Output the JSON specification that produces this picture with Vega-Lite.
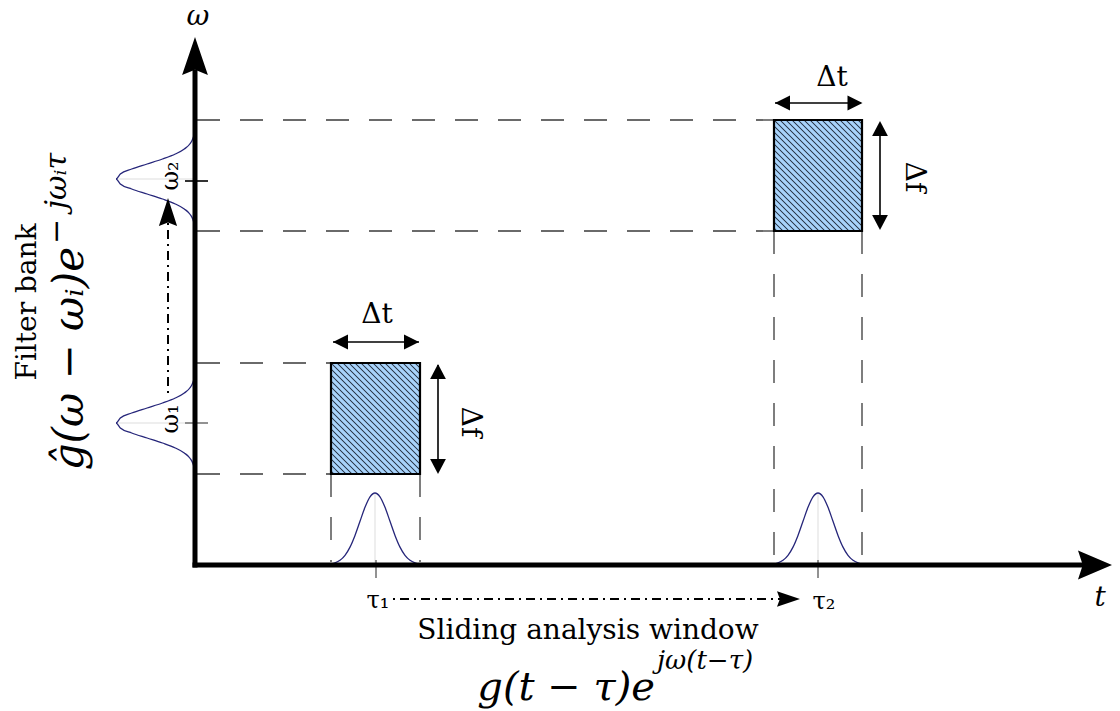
{
  "$schema": "https://vega.github.io/schema/vega-lite/v6.json",
  "width": 1120,
  "height": 711,
  "autosize": {"type": "fit", "contains": "padding"},
  "padding": 0,
  "background": "white",
  "config": {"view": {"stroke": null}},
  "datasets": {
    "boxes": [
      {"t": 1.36, "t2": 2.25, "w": 0.91, "w2": 2.02},
      {"t": 5.79, "t2": 6.67, "w": 3.34, "w2": 4.45}
    ],
    "dashed": [
      {"t": 0.02, "w": 2.02, "t2": 1.36, "w2": 2.02},
      {"t": 0.02, "w": 0.91, "t2": 1.36, "w2": 0.91},
      {"t": 1.36, "w": 0.91, "t2": 1.36, "w2": 0.03},
      {"t": 2.25, "w": 0.91, "t2": 2.25, "w2": 0.03},
      {"t": 0.02, "w": 4.45, "t2": 5.79, "w2": 4.45},
      {"t": 0.02, "w": 3.34, "t2": 5.79, "w2": 3.34},
      {"t": 5.79, "w": 3.34, "t2": 5.79, "w2": 0.03},
      {"t": 6.67, "w": 3.34, "t2": 6.67, "w2": 0.03}
    ],
    "hatch": [
      {"t": 1.36, "w": 0.94, "t2": 1.39, "w2": 0.91},
      {"t": 1.36, "w": 1.00, "t2": 1.45, "w2": 0.91},
      {"t": 1.36, "w": 1.06, "t2": 1.51, "w2": 0.91},
      {"t": 1.36, "w": 1.12, "t2": 1.57, "w2": 0.91},
      {"t": 1.36, "w": 1.18, "t2": 1.63, "w2": 0.91},
      {"t": 1.36, "w": 1.24, "t2": 1.69, "w2": 0.91},
      {"t": 1.36, "w": 1.30, "t2": 1.75, "w2": 0.91},
      {"t": 1.36, "w": 1.36, "t2": 1.81, "w2": 0.91},
      {"t": 1.36, "w": 1.42, "t2": 1.87, "w2": 0.91},
      {"t": 1.36, "w": 1.48, "t2": 1.93, "w2": 0.91},
      {"t": 1.36, "w": 1.54, "t2": 1.99, "w2": 0.91},
      {"t": 1.36, "w": 1.60, "t2": 2.05, "w2": 0.91},
      {"t": 1.36, "w": 1.66, "t2": 2.11, "w2": 0.91},
      {"t": 1.36, "w": 1.72, "t2": 2.17, "w2": 0.91},
      {"t": 1.36, "w": 1.78, "t2": 2.23, "w2": 0.91},
      {"t": 1.36, "w": 1.84, "t2": 2.25, "w2": 0.95},
      {"t": 1.36, "w": 1.90, "t2": 2.25, "w2": 1.01},
      {"t": 1.36, "w": 1.96, "t2": 2.25, "w2": 1.07},
      {"t": 1.36, "w": 2.02, "t2": 2.25, "w2": 1.13},
      {"t": 1.42, "w": 2.02, "t2": 2.25, "w2": 1.19},
      {"t": 1.48, "w": 2.02, "t2": 2.25, "w2": 1.25},
      {"t": 1.54, "w": 2.02, "t2": 2.25, "w2": 1.31},
      {"t": 1.60, "w": 2.02, "t2": 2.25, "w2": 1.37},
      {"t": 1.66, "w": 2.02, "t2": 2.25, "w2": 1.43},
      {"t": 1.72, "w": 2.02, "t2": 2.25, "w2": 1.49},
      {"t": 1.78, "w": 2.02, "t2": 2.25, "w2": 1.55},
      {"t": 1.84, "w": 2.02, "t2": 2.25, "w2": 1.61},
      {"t": 1.90, "w": 2.02, "t2": 2.25, "w2": 1.67},
      {"t": 1.96, "w": 2.02, "t2": 2.25, "w2": 1.73},
      {"t": 2.02, "w": 2.02, "t2": 2.25, "w2": 1.79},
      {"t": 2.08, "w": 2.02, "t2": 2.25, "w2": 1.85},
      {"t": 2.14, "w": 2.02, "t2": 2.25, "w2": 1.91},
      {"t": 2.20, "w": 2.02, "t2": 2.25, "w2": 1.97},
      {"t": 5.79, "w": 3.37, "t2": 5.82, "w2": 3.34},
      {"t": 5.79, "w": 3.43, "t2": 5.88, "w2": 3.34},
      {"t": 5.79, "w": 3.49, "t2": 5.94, "w2": 3.34},
      {"t": 5.79, "w": 3.55, "t2": 6.00, "w2": 3.34},
      {"t": 5.79, "w": 3.61, "t2": 6.06, "w2": 3.34},
      {"t": 5.79, "w": 3.67, "t2": 6.12, "w2": 3.34},
      {"t": 5.79, "w": 3.73, "t2": 6.18, "w2": 3.34},
      {"t": 5.79, "w": 3.79, "t2": 6.24, "w2": 3.34},
      {"t": 5.79, "w": 3.85, "t2": 6.30, "w2": 3.34},
      {"t": 5.79, "w": 3.91, "t2": 6.36, "w2": 3.34},
      {"t": 5.79, "w": 3.97, "t2": 6.42, "w2": 3.34},
      {"t": 5.79, "w": 4.03, "t2": 6.48, "w2": 3.34},
      {"t": 5.79, "w": 4.09, "t2": 6.54, "w2": 3.34},
      {"t": 5.79, "w": 4.15, "t2": 6.60, "w2": 3.34},
      {"t": 5.79, "w": 4.21, "t2": 6.66, "w2": 3.34},
      {"t": 5.79, "w": 4.27, "t2": 6.67, "w2": 3.39},
      {"t": 5.79, "w": 4.33, "t2": 6.67, "w2": 3.45},
      {"t": 5.79, "w": 4.39, "t2": 6.67, "w2": 3.51},
      {"t": 5.79, "w": 4.45, "t2": 6.67, "w2": 3.57},
      {"t": 5.85, "w": 4.45, "t2": 6.67, "w2": 3.63},
      {"t": 5.91, "w": 4.45, "t2": 6.67, "w2": 3.69},
      {"t": 5.97, "w": 4.45, "t2": 6.67, "w2": 3.75},
      {"t": 6.03, "w": 4.45, "t2": 6.67, "w2": 3.81},
      {"t": 6.09, "w": 4.45, "t2": 6.67, "w2": 3.87},
      {"t": 6.15, "w": 4.45, "t2": 6.67, "w2": 3.93},
      {"t": 6.21, "w": 4.45, "t2": 6.67, "w2": 3.99},
      {"t": 6.27, "w": 4.45, "t2": 6.67, "w2": 4.05},
      {"t": 6.33, "w": 4.45, "t2": 6.67, "w2": 4.11},
      {"t": 6.39, "w": 4.45, "t2": 6.67, "w2": 4.17},
      {"t": 6.45, "w": 4.45, "t2": 6.67, "w2": 4.23},
      {"t": 6.51, "w": 4.45, "t2": 6.67, "w2": 4.29},
      {"t": 6.57, "w": 4.45, "t2": 6.67, "w2": 4.35},
      {"t": 6.63, "w": 4.45, "t2": 6.67, "w2": 4.41}
    ],
    "guides": [
      {"t": 1.80, "w": 0.0, "t2": 1.80, "w2": 0.72},
      {"t": 6.23, "w": 0.0, "t2": 6.23, "w2": 0.72},
      {"t": -0.79, "w": 3.86, "t2": 0.0, "w2": 3.86},
      {"t": -0.79, "w": 1.42, "t2": 0.0, "w2": 1.42}
    ],
    "timeWindows": [
      {"g": "τ1", "t": 1.35, "w": 0.008}, {"g": "τ1", "t": 1.40, "w": 0.021}, {"g": "τ1", "t": 1.45, "w": 0.047},
      {"g": "τ1", "t": 1.50, "w": 0.097}, {"g": "τ1", "t": 1.55, "w": 0.179}, {"g": "τ1", "t": 1.60, "w": 0.296},
      {"g": "τ1", "t": 1.65, "w": 0.437}, {"g": "τ1", "t": 1.70, "w": 0.577}, {"g": "τ1", "t": 1.75, "w": 0.681},
      {"g": "τ1", "t": 1.80, "w": 0.720}, {"g": "τ1", "t": 1.85, "w": 0.681}, {"g": "τ1", "t": 1.90, "w": 0.577},
      {"g": "τ1", "t": 1.95, "w": 0.437}, {"g": "τ1", "t": 2.00, "w": 0.296}, {"g": "τ1", "t": 2.05, "w": 0.179},
      {"g": "τ1", "t": 2.10, "w": 0.097}, {"g": "τ1", "t": 2.15, "w": 0.047}, {"g": "τ1", "t": 2.20, "w": 0.021},
      {"g": "τ1", "t": 2.25, "w": 0.008},
      {"g": "τ2", "t": 5.78, "w": 0.008}, {"g": "τ2", "t": 5.83, "w": 0.021}, {"g": "τ2", "t": 5.88, "w": 0.047},
      {"g": "τ2", "t": 5.93, "w": 0.097}, {"g": "τ2", "t": 5.98, "w": 0.179}, {"g": "τ2", "t": 6.03, "w": 0.296},
      {"g": "τ2", "t": 6.08, "w": 0.437}, {"g": "τ2", "t": 6.13, "w": 0.577}, {"g": "τ2", "t": 6.18, "w": 0.681},
      {"g": "τ2", "t": 6.23, "w": 0.720}, {"g": "τ2", "t": 6.28, "w": 0.681}, {"g": "τ2", "t": 6.33, "w": 0.577},
      {"g": "τ2", "t": 6.38, "w": 0.437}, {"g": "τ2", "t": 6.43, "w": 0.296}, {"g": "τ2", "t": 6.48, "w": 0.179},
      {"g": "τ2", "t": 6.53, "w": 0.097}, {"g": "τ2", "t": 6.58, "w": 0.047}, {"g": "τ2", "t": 6.63, "w": 0.021},
      {"g": "τ2", "t": 6.68, "w": 0.008}
    ],
    "filters": [
      {"g": "ω2", "w": 3.36, "t": -0.003}, {"g": "ω2", "w": 3.41, "t": -0.009}, {"g": "ω2", "w": 3.46, "t": -0.023},
      {"g": "ω2", "w": 3.51, "t": -0.052}, {"g": "ω2", "w": 3.56, "t": -0.107}, {"g": "ω2", "w": 3.61, "t": -0.197},
      {"g": "ω2", "w": 3.66, "t": -0.325}, {"g": "ω2", "w": 3.71, "t": -0.479}, {"g": "ω2", "w": 3.76, "t": -0.633},
      {"g": "ω2", "w": 3.81, "t": -0.747}, {"g": "ω2", "w": 3.86, "t": -0.790}, {"g": "ω2", "w": 3.91, "t": -0.747},
      {"g": "ω2", "w": 3.96, "t": -0.633}, {"g": "ω2", "w": 4.01, "t": -0.479}, {"g": "ω2", "w": 4.06, "t": -0.325},
      {"g": "ω2", "w": 4.11, "t": -0.197}, {"g": "ω2", "w": 4.16, "t": -0.107}, {"g": "ω2", "w": 4.21, "t": -0.052},
      {"g": "ω2", "w": 4.26, "t": -0.023}, {"g": "ω2", "w": 4.31, "t": -0.009}, {"g": "ω2", "w": 4.36, "t": -0.003},
      {"g": "ω1", "w": 0.92, "t": -0.003}, {"g": "ω1", "w": 0.97, "t": -0.009}, {"g": "ω1", "w": 1.02, "t": -0.023},
      {"g": "ω1", "w": 1.07, "t": -0.052}, {"g": "ω1", "w": 1.12, "t": -0.107}, {"g": "ω1", "w": 1.17, "t": -0.197},
      {"g": "ω1", "w": 1.22, "t": -0.325}, {"g": "ω1", "w": 1.27, "t": -0.479}, {"g": "ω1", "w": 1.32, "t": -0.633},
      {"g": "ω1", "w": 1.37, "t": -0.747}, {"g": "ω1", "w": 1.42, "t": -0.790}, {"g": "ω1", "w": 1.47, "t": -0.747},
      {"g": "ω1", "w": 1.52, "t": -0.633}, {"g": "ω1", "w": 1.57, "t": -0.479}, {"g": "ω1", "w": 1.62, "t": -0.325},
      {"g": "ω1", "w": 1.67, "t": -0.197}, {"g": "ω1", "w": 1.72, "t": -0.107}, {"g": "ω1", "w": 1.77, "t": -0.052},
      {"g": "ω1", "w": 1.82, "t": -0.023}, {"g": "ω1", "w": 1.87, "t": -0.009}, {"g": "ω1", "w": 1.92, "t": -0.003}
    ],
    "ticks": [
      {"kind": "gray", "t": 1.81, "w": 0.05, "t2": 1.81, "w2": -0.13},
      {"kind": "gray", "t": 6.23, "w": 0.05, "t2": 6.23, "w2": -0.13},
      {"kind": "black", "t": -0.10, "w": 3.84, "t2": 0.13, "w2": 3.84},
      {"kind": "gray", "t": -0.10, "w": 1.42, "t2": 0.13, "w2": 1.42}
    ],
    "axes": [
      {"t": 0.0, "w": -0.025, "t2": 0.0, "w2": 4.95},
      {"t": -0.025, "w": 0.0, "t2": 8.9, "w2": 0.0}
    ],
    "arrowLines": [
      {"t": 1.38, "w": 2.23, "t2": 2.24, "w2": 2.23},
      {"t": 5.80, "w": 4.62, "t2": 6.66, "w2": 4.62},
      {"t": 2.43, "w": 0.93, "t2": 2.43, "w2": 2.00},
      {"t": 6.85, "w": 3.37, "t2": 6.85, "w2": 4.42}
    ],
    "slideLines": [
      {"t": 1.98, "w": -0.34, "t2": 5.85, "w2": -0.34},
      {"t": -0.27, "w": 1.72, "t2": -0.27, "w2": 3.43}
    ],
    "heads": [
      {"kind": "axisUp", "t": 0.0, "w": 5.09},
      {"kind": "axisRight", "t": 9.0, "w": 0.0},
      {"kind": "left", "t": 1.455, "w": 2.23},
      {"kind": "left", "t": 5.875, "w": 4.62},
      {"kind": "right", "t": 2.165, "w": 2.23},
      {"kind": "right", "t": 6.60, "w": 4.62},
      {"kind": "up", "t": 2.43, "w": 1.935},
      {"kind": "up", "t": 6.85, "w": 4.365},
      {"kind": "down", "t": 2.43, "w": 0.985},
      {"kind": "down", "t": 6.85, "w": 3.425},
      {"kind": "slideRight", "t": 5.935, "w": -0.34},
      {"kind": "slideUp", "t": -0.27, "w": 3.53}
    ],
    "labels": [
      {"role": "plain", "label": "Δt", "t": 1.82, "w": 2.50},
      {"role": "plain", "label": "Δt", "t": 6.37, "w": 4.87},
      {"role": "plain", "label": "Sliding analysis window", "t": 3.93, "w": -0.66},
      {"role": "df", "label": "Δf", "t": 2.75, "w": 1.43},
      {"role": "df", "label": "Δf", "t": 7.19, "w": 3.88},
      {"role": "vtitle", "label": "Filter bank", "t": -1.67, "w": 2.63},
      {"role": "axisname", "label": "ω", "t": 0.03, "w": 5.48},
      {"role": "axisname", "label": "t", "t": 9.05, "w": -0.33},
      {"role": "tick", "label": "τ₁", "t": 1.83, "w": -0.36},
      {"role": "tick", "label": "τ₂", "t": 6.29, "w": -0.37},
      {"role": "vtick", "label": "ω₂", "t": -0.24, "w": 3.89},
      {"role": "vtick", "label": "ω₁", "t": -0.24, "w": 1.46},
      {"role": "fmain", "label": "g(t − τ)e", "t": 4.60, "w": -1.345},
      {"role": "fsup", "label": "jω(t−τ)", "t": 4.62, "w": -1.04},
      {"role": "vfmain", "label": "ĝ(ω − ωᵢ)e", "t": -1.12, "w": 3.18},
      {"role": "vfsup", "label": "− jωᵢτ", "t": -1.29, "w": 3.21}
    ]
  },
  "encoding": {
    "x": {"field": "t", "type": "quantitative", "scale": {"domain": [-1.95, 9.25], "nice": false, "zero": false}, "axis": null},
    "y": {"field": "w", "type": "quantitative", "scale": {"domain": [-1.46, 5.65], "nice": false, "zero": false}, "axis": null}
  },
  "layer": [
    {
      "data": {"name": "dashed"},
      "mark": {"type": "rule", "color": "#3a3a3a", "strokeWidth": 1.3, "strokeDash": [23, 20]},
      "encoding": {"x2": {"field": "t2"}, "y2": {"field": "w2"}}
    },
    {
      "data": {"name": "guides"},
      "mark": {"type": "rule", "color": "#dddddd", "strokeWidth": 1},
      "encoding": {"x2": {"field": "t2"}, "y2": {"field": "w2"}}
    },
    {
      "data": {"name": "ticks"},
      "transform": [{"filter": "datum.kind === 'gray'"}],
      "mark": {"type": "rule", "color": "#777777", "strokeWidth": 1.6},
      "encoding": {"x2": {"field": "t2"}, "y2": {"field": "w2"}}
    },
    {
      "data": {"name": "ticks"},
      "transform": [{"filter": "datum.kind === 'black'"}],
      "mark": {"type": "rule", "color": "#000000", "strokeWidth": 1.6},
      "encoding": {"x2": {"field": "t2"}, "y2": {"field": "w2"}}
    },
    {
      "data": {"name": "timeWindows"},
      "mark": {"type": "line", "color": "#26267a", "strokeWidth": 1.3, "interpolate": "monotone"},
      "encoding": {"detail": {"field": "g"}, "order": {"field": "t"}}
    },
    {
      "data": {"name": "filters"},
      "mark": {"type": "line", "color": "#26267a", "strokeWidth": 1.3, "interpolate": "monotone"},
      "encoding": {"detail": {"field": "g"}, "order": {"field": "w"}}
    },
    {
      "data": {"name": "boxes"},
      "mark": {"type": "rect", "fill": "#a8d3fb", "stroke": null},
      "encoding": {"x2": {"field": "t2"}, "y2": {"field": "w2"}}
    },
    {
      "data": {"name": "hatch"},
      "mark": {"type": "rule", "color": "#1a2433", "strokeWidth": 1.05},
      "encoding": {"x2": {"field": "t2"}, "y2": {"field": "w2"}}
    },
    {
      "data": {"name": "boxes"},
      "mark": {"type": "rect", "fill": null, "fillOpacity": 0, "stroke": "#000000", "strokeWidth": 2.2},
      "encoding": {"x2": {"field": "t2"}, "y2": {"field": "w2"}}
    },
    {
      "data": {"name": "axes"},
      "mark": {"type": "rule", "color": "#000000", "strokeWidth": 5, "strokeCap": "butt"},
      "encoding": {"x2": {"field": "t2"}, "y2": {"field": "w2"}}
    },
    {
      "data": {"name": "arrowLines"},
      "mark": {"type": "rule", "color": "#000000", "strokeWidth": 1.6},
      "encoding": {"x2": {"field": "t2"}, "y2": {"field": "w2"}}
    },
    {
      "data": {"name": "slideLines"},
      "mark": {"type": "rule", "color": "#000000", "strokeWidth": 2, "strokeDash": [2, 5, 9, 5]},
      "encoding": {"x2": {"field": "t2"}, "y2": {"field": "w2"}}
    },
    {
      "data": {"name": "heads"},
      "transform": [{"filter": "datum.kind === 'axisUp'"}],
      "mark": {"type": "point", "shape": "M0,-1L0.68,1L0,0.72L-0.68,1Z", "size": 1444, "filled": true, "color": "#000000", "opacity": 1, "strokeWidth": 0},
      "encoding": {}
    },
    {
      "data": {"name": "heads"},
      "transform": [{"filter": "datum.kind === 'axisRight'"}],
      "mark": {"type": "point", "shape": "M1,0L-1,0.85L-0.72,0L-1,-0.85Z", "size": 1156, "filled": true, "color": "#000000", "opacity": 1, "strokeWidth": 0},
      "encoding": {}
    },
    {
      "data": {"name": "heads"},
      "transform": [{"filter": "datum.kind === 'left'"}],
      "mark": {"type": "point", "shape": "M-1,0L1,-1L1,1Z", "size": 225, "filled": true, "color": "#000000", "opacity": 1, "strokeWidth": 0},
      "encoding": {}
    },
    {
      "data": {"name": "heads"},
      "transform": [{"filter": "datum.kind === 'right'"}],
      "mark": {"type": "point", "shape": "M1,0L-1,-1L-1,1Z", "size": 225, "filled": true, "color": "#000000", "opacity": 1, "strokeWidth": 0},
      "encoding": {}
    },
    {
      "data": {"name": "heads"},
      "transform": [{"filter": "datum.kind === 'up'"}],
      "mark": {"type": "point", "shape": "M0,-1L-1.05,1L1.05,1Z", "size": 225, "filled": true, "color": "#000000", "opacity": 1, "strokeWidth": 0},
      "encoding": {}
    },
    {
      "data": {"name": "heads"},
      "transform": [{"filter": "datum.kind === 'down'"}],
      "mark": {"type": "point", "shape": "M0,1L-1.05,-1L1.05,-1Z", "size": 225, "filled": true, "color": "#000000", "opacity": 1, "strokeWidth": 0},
      "encoding": {}
    },
    {
      "data": {"name": "heads"},
      "transform": [{"filter": "datum.kind === 'slideRight'"}],
      "mark": {"type": "point", "shape": "M1,0L-1,-0.68L-0.75,0L-1,0.68Z", "size": 529, "filled": true, "color": "#000000", "opacity": 1, "strokeWidth": 0},
      "encoding": {}
    },
    {
      "data": {"name": "heads"},
      "transform": [{"filter": "datum.kind === 'slideUp'"}],
      "mark": {"type": "point", "shape": "M0,-1L0.65,1L0,0.75L-0.65,1Z", "size": 784, "filled": true, "color": "#000000", "opacity": 1, "strokeWidth": 0},
      "encoding": {}
    },
    {
      "data": {"name": "labels"},
      "transform": [{"filter": "datum.role === 'plain'"}],
      "mark": {"type": "text", "font": "DejaVu Serif", "fontSize": 28, "align": "center", "baseline": "middle", "color": "#000000"},
      "encoding": {"text": {"field": "label"}}
    },
    {
      "data": {"name": "labels"},
      "transform": [{"filter": "datum.role === 'df'"}],
      "mark": {"type": "text", "font": "DejaVu Serif", "fontSize": 28, "align": "center", "baseline": "middle", "angle": 90, "color": "#000000"},
      "encoding": {"text": {"field": "label"}}
    },
    {
      "data": {"name": "labels"},
      "transform": [{"filter": "datum.role === 'vtitle'"}],
      "mark": {"type": "text", "font": "DejaVu Serif", "fontSize": 28, "align": "center", "baseline": "middle", "angle": -90, "color": "#000000"},
      "encoding": {"text": {"field": "label"}}
    },
    {
      "data": {"name": "labels"},
      "transform": [{"filter": "datum.role === 'axisname'"}],
      "mark": {"type": "text", "font": "DejaVu Serif", "fontStyle": "italic", "fontSize": 28, "align": "center", "baseline": "middle", "color": "#000000"},
      "encoding": {"text": {"field": "label"}}
    },
    {
      "data": {"name": "labels"},
      "transform": [{"filter": "datum.role === 'tick'"}],
      "mark": {"type": "text", "font": "DejaVu Serif", "fontSize": 24, "align": "center", "baseline": "middle", "color": "#000000"},
      "encoding": {"text": {"field": "label"}}
    },
    {
      "data": {"name": "labels"},
      "transform": [{"filter": "datum.role === 'vtick'"}],
      "mark": {"type": "text", "font": "DejaVu Serif", "fontSize": 24, "align": "center", "baseline": "middle", "angle": -90, "color": "#000000"},
      "encoding": {"text": {"field": "label"}}
    },
    {
      "data": {"name": "labels"},
      "transform": [{"filter": "datum.role === 'fmain'"}],
      "mark": {"type": "text", "font": "DejaVu Serif", "fontStyle": "italic", "fontSize": 40, "align": "right", "baseline": "alphabetic", "color": "#000000"},
      "encoding": {"text": {"field": "label"}}
    },
    {
      "data": {"name": "labels"},
      "transform": [{"filter": "datum.role === 'fsup'"}],
      "mark": {"type": "text", "font": "DejaVu Serif", "fontStyle": "italic", "fontSize": 26, "align": "left", "baseline": "alphabetic", "color": "#000000"},
      "encoding": {"text": {"field": "label"}}
    },
    {
      "data": {"name": "labels"},
      "transform": [{"filter": "datum.role === 'vfmain'"}],
      "mark": {"type": "text", "font": "DejaVu Serif", "fontStyle": "italic", "fontSize": 42, "align": "right", "baseline": "alphabetic", "angle": -90, "color": "#000000"},
      "encoding": {"text": {"field": "label"}}
    },
    {
      "data": {"name": "labels"},
      "transform": [{"filter": "datum.role === 'vfsup'"}],
      "mark": {"type": "text", "font": "DejaVu Serif", "fontStyle": "italic", "fontSize": 30, "align": "left", "baseline": "alphabetic", "angle": -90, "color": "#000000"},
      "encoding": {"text": {"field": "label"}}
    }
  ]
}
